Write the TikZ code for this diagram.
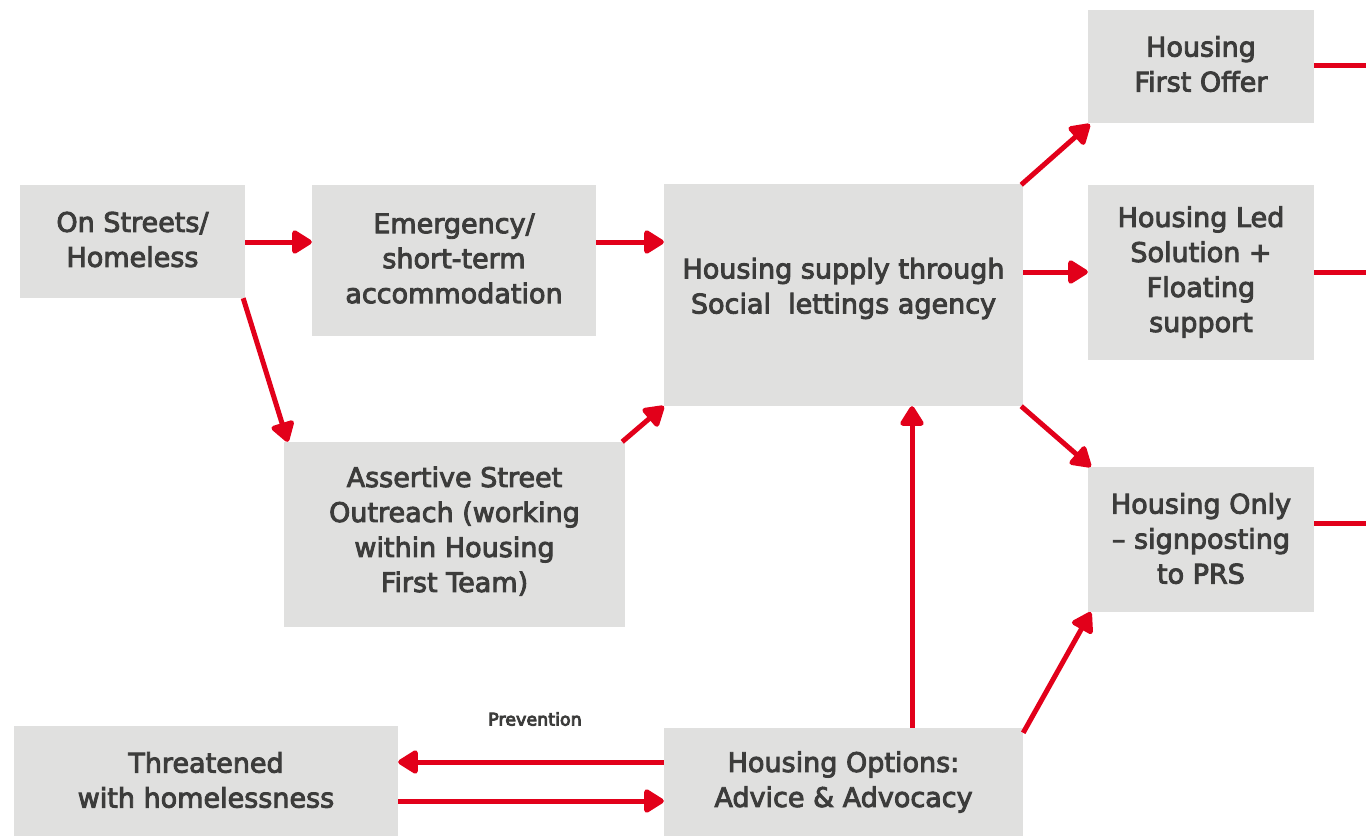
\documentclass[tikz,border=0pt]{standalone}
\usepackage{fontspec}
\newfontfamily\boxfont{DejaVu Sans}
\usetikzlibrary{arrows.meta,calc}
\definecolor{boxgray}{HTML}{E0E0DF}
\definecolor{txtgray}{HTML}{3C3C3B}
\definecolor{arrred}{HTML}{E2001A}
\newcommand\embolden{\special{pdf:literal direct 2 Tr 0.9 w}}
\newcommand\unembolden{\special{pdf:literal direct 0 Tr}}
\begin{document}
\begin{tikzpicture}[x=1pt,y=-1pt,
  heavy/.style={execute at begin node=\embolden, execute at end node=\unembolden},
  box/.style={fill=boxgray,draw=none,inner sep=0pt},
  boxtext/.style={inner sep=0pt,align=center,text=txtgray,heavy,
    font=\boxfont\fontsize{27}{35}\selectfont},
  flow/.style={draw=arrred,line width=5pt,-{Triangle[length=22pt,width=26pt,round]}},
  plain/.style={draw=arrred,line width=5pt}]
\useasboundingbox (0,0) rectangle (1366,836);
\node[box,minimum width=225pt,minimum height=113pt] (os) at (132.5,241.5) {};
\node[boxtext] (ost) at (132.5,239.5) {On Streets/\\Homeless};
\node[box,minimum width=284pt,minimum height=151pt] (em) at (454,260.5) {};
\node[boxtext] (emt) at (454,258.5) {Emergency/\\short-term\\accommodation};
\node[box,minimum width=359pt,minimum height=222pt] (hs) at (843.5,295) {};
\node[boxtext] (hst) at (843.5,288.5) {Housing supply through\\Social\ \ lettings agency};
\node[box,minimum width=341pt,minimum height=185pt] (as) at (454.5,534.5) {};
\node[boxtext] (ast) at (454.5,531) {Assertive Street\\Outreach (working\\within Housing\\First Team)};
\node[box,minimum width=384pt,minimum height=110pt] (th) at (206,781) {};
\node[boxtext] (tht) at (206,780) {Threatened\\with homelessness};
\node[box,minimum width=359pt,minimum height=108pt] (op) at (843.5,782) {};
\node[boxtext] (opt) at (843.5,782) {Housing Options:\\Advice \& Advocacy};
\node[box,minimum width=226pt,minimum height=113pt] (hf) at (1201,66.5) {};
\node[boxtext] (hft) at (1201,64) {Housing\\First Offer};
\node[box,minimum width=226pt,minimum height=175pt] (hl) at (1201,272.5) {};
\node[boxtext] (hlt) at (1201,272) {Housing Led\\Solution +\\Floating\\support};
\node[box,minimum width=226pt,minimum height=145pt] (ho) at (1201,539.5) {};
\node[boxtext] (hot) at (1201,538.5) {Housing Only\\– signposting\\to PRS};
\node[text=txtgray,heavy,font=\boxfont\fontsize{17.5}{20}\selectfont] (pv) at (535,719) {Prevention};
\coordinate (e1) at (1366,65);
\coordinate (e2) at (1366,272);
\coordinate (e3) at (1366,523);
\draw[flow] (os.east |- 0,242) -- (em.west |- 0,242);
\draw[flow] (em.east |- 0,242) -- (hs.west |- 0,242);
\draw[flow] ($(os.south east)+(-2,0)$) -- ($(as.north west)+(4,0)$);
\draw[flow] ($(as.north east)+(-3,0)$) -- (hs.south west);
\draw[flow] ($(hs.north east)+(-2,1)$) -- ($(hf.south west)+(2,1)$);
\draw[flow] (hs.east |- 0,272) -- (hl.west |- 0,272);
\draw[flow] ($(hs.south east)+(-2,0)$) -- ($(ho.north west)+(3,0)$);
\draw[flow] (op.north -| 912,0) -- (hs.south -| 912,0);
\draw[flow] ($(op.north east)+(0,5)$) -- ($(ho.south west)+(3,0)$);
\draw[flow] (op.west |- 0,762) -- (th.east |- 0,762);
\draw[flow] (th.east |- 0,801) -- (op.west |- 0,801);
\draw[plain] (hf.east |- e1) -- (e1);
\draw[plain] (hl.east |- e2) -- (e2);
\draw[plain] (ho.east |- e3) -- (e3);
\end{tikzpicture}
\end{document}
